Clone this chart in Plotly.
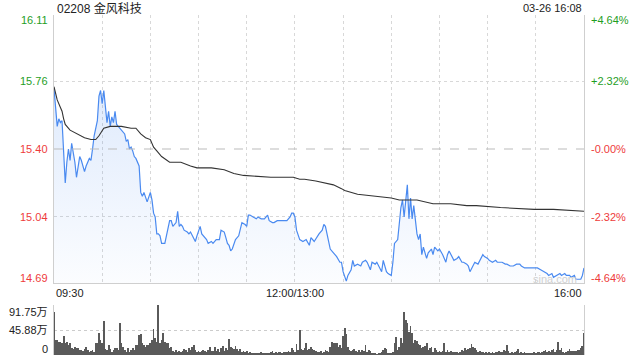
import plotly.graph_objects as go

# ---------------- data ----------------
title_text = "02208 金风科技"
stamp_text = "03-26 16:08"
prev_close = 15.40
price_levels = [16.11, 15.76, 15.40, 15.04, 14.69]
pct_labels = ["+4.64%", "+2.32%", "-0.00%", "-2.32%", "-4.64%"]
price_min, price_max = 14.69, 16.11
vol_max = 91.75
vol_labels = ["91.75万", "45.88万", "0"]
x_labels = ["09:30", "12:00/13:00", "16:00"]

price_times = [
    "09:30","09:31","09:32","09:33","09:34","09:35","09:36","09:37","09:38","09:39",
    "09:40","09:41","09:43","09:44","09:46","09:47","09:49","09:50","09:52","09:53",
    "09:54","09:55","09:57","09:58","09:59","10:00","10:01","10:02","10:03","10:04",
    "10:05","10:06","10:07","10:08","10:09","10:10","10:12","10:14","10:15","10:16",
    "10:17","10:18","10:19","10:20","10:21","10:23","10:24","10:25","10:26","10:27",
    "10:28","10:30","10:31","10:32","10:33","10:34","10:35","10:36","10:37","10:39",
    "10:41","10:42","10:43","10:44","10:46","10:47","10:48","10:49","10:50","10:51",
    "10:53","10:54","10:55","10:56","10:57","10:58","10:59","11:01","11:02","11:03",
    "11:05","11:06","11:08","11:09","11:11","11:12","11:13","11:14","11:16","11:17",
    "11:18","11:19","11:20","11:21","11:22","11:23","11:25","11:26","11:27","11:29",
    "11:30","11:31","11:32","11:34","11:36","11:37","11:39","11:41","11:43","11:44",
    "11:46","11:47","11:49","11:51","11:53","11:55","11:57","11:58","11:59","12:00",
    "13:01","13:03","13:05","13:07","13:09","13:10","13:12","13:14","13:15","13:17",
    "13:18","13:19","13:21","13:22","13:24","13:26","13:28","13:29","13:30","13:32",
    "13:33","13:35","13:36","13:37","13:39","13:41","13:42","13:44","13:45","13:47",
    "13:48","13:50","13:51","13:53","13:54","13:55","13:57","13:58","14:00","14:01",
    "14:02","14:04","14:05","14:06","14:07","14:08","14:10","14:11","14:12","14:13",
    "14:14","14:15","14:16","14:17","14:18","14:19","14:20","14:22","14:23","14:25",
    "14:26","14:27","14:29","14:30","14:32","14:34","14:35","14:36","14:38","14:39",
    "14:41","14:42","14:44","14:45","14:47","14:48","14:49","14:51","14:52","14:54",
    "14:55","14:57","14:58","15:00","15:01","15:03","15:05","15:06","15:08","15:09",
    "15:11","15:12","15:14","15:16","15:18","15:20","15:21","15:23","15:25","15:27",
    "15:29","15:31","15:33","15:35","15:37","15:38","15:40","15:41","15:43","15:45",
    "15:46","15:48","15:49","15:51","15:52","15:54","15:55","15:58","15:59","16:00",
]
price_values = [
    15.72,15.59,15.52,15.56,15.54,15.55,15.41,15.22,15.33,15.40,
    15.34,15.43,15.33,15.25,15.36,15.34,15.28,15.31,15.35,15.34,
    15.40,15.47,15.55,15.68,15.71,15.64,15.71,15.61,15.54,15.60,
    15.52,15.57,15.54,15.60,15.53,15.52,15.50,15.48,15.44,15.45,
    15.40,15.41,15.39,15.36,15.35,15.31,15.17,15.15,15.17,15.14,
    15.12,15.17,15.13,15.06,15.04,14.95,14.95,14.94,14.90,14.90,
    14.97,15.02,15.02,14.99,15.01,15.07,14.99,15.00,14.99,14.97,
    14.96,14.95,14.96,14.94,14.92,14.91,14.94,14.99,14.95,14.94,
    14.92,14.90,14.91,14.90,14.92,14.92,14.92,14.97,14.96,14.93,
    14.90,14.89,14.86,14.87,14.90,14.92,14.94,14.97,15.01,15.00,
    14.99,15.05,15.05,15.04,15.03,15.04,15.03,15.03,15.05,15.02,
    15.01,15.01,15.02,15.02,15.02,15.02,15.04,15.06,15.06,15.04,
    14.97,14.92,14.91,14.92,14.89,14.93,14.91,14.94,14.95,14.97,
    15.00,14.99,14.91,14.87,14.85,14.83,14.80,14.80,14.75,14.70,
    14.73,14.76,14.81,14.78,14.79,14.78,14.80,14.81,14.80,14.76,
    14.80,14.79,14.80,14.77,14.75,14.81,14.75,14.74,14.73,14.80,
    14.90,14.92,15.00,15.09,15.13,15.04,15.21,15.03,15.14,15.03,
    15.10,15.03,14.95,14.92,14.95,14.84,14.88,14.82,14.85,14.87,
    14.84,14.88,14.86,14.87,14.84,14.80,14.84,14.86,14.83,14.81,
    14.82,14.83,14.80,14.80,14.79,14.78,14.75,14.78,14.80,14.79,
    14.81,14.84,14.83,14.82,14.81,14.80,14.81,14.80,14.80,14.80,
    14.79,14.79,14.78,14.78,14.79,14.79,14.78,14.77,14.77,14.77,
    14.77,14.77,14.76,14.75,14.74,14.73,14.74,14.72,14.73,14.74,
    14.73,14.74,14.73,14.73,14.72,14.73,14.71,14.71,14.73,14.77,
]

avg_times = [
    "09:30","09:32","09:34","09:35","09:36","09:37","09:40","09:45","09:49","09:53",
    "09:56","09:58","10:01","10:05","10:12","10:18","10:21","10:24","10:27","10:30",
    "10:32","10:34","10:37","10:42","10:49","10:55","10:59","11:08","11:16","11:22",
    "11:28","11:45","11:59","13:03","13:06","13:13","13:24","13:29","13:31","13:39",
    "13:49","14:00","14:05","14:16","14:26","14:37","14:47","14:53","15:08","15:29",
    "15:41","16:00",
]
avg_values = [
    15.73,15.66,15.62,15.60,15.56,15.53,15.50,15.48,15.46,15.45,
    15.45,15.47,15.51,15.52,15.52,15.51,15.51,15.48,15.46,15.45,
    15.41,15.39,15.36,15.33,15.33,15.31,15.30,15.30,15.29,15.27,
    15.26,15.25,15.25,15.24,15.24,15.23,15.21,15.19,15.18,15.16,
    15.15,15.14,15.13,15.13,15.11,15.11,15.10,15.10,15.09,15.08,
    15.08,15.07,
]

# volume per minute (万), one value per minute slot from 09:30 to 16:00
volume_values = [
    79.5,27.5,27.5,24.5,24.5,21.4,34.9,21.4,24.5,18.4,
    21.4,12.2,10.4,14.1,13.5,12.2,9.2,9.2,8.0,10.4,
    15.3,9.2,6.1,7.3,9.2,6.1,21.4,21.4,41.0,27.5,
    21.4,63.0,10.4,9.2,18.4,10.4,6.1,9.2,12.2,12.2,
    9.2,58.1,21.4,15.3,9.2,6.1,12.2,6.1,9.2,12.2,
    9.2,18.4,18.4,36.7,38.5,21.4,18.4,15.3,18.4,18.4,
    21.4,27.5,47.1,30.6,24.5,91.75,21.4,27.5,39.8,24.5,
    21.4,22.6,12.2,15.3,7.3,6.1,9.2,6.1,7.3,6.1,
    8.0,10.4,9.2,6.1,12.2,9.2,15.3,18.4,9.2,6.1,
    7.3,6.1,8.0,9.2,7.3,6.1,9.2,15.3,7.3,8.0,
    15.3,7.3,10.4,6.1,12.2,16.5,7.3,12.2,9.2,28.7,
    15.3,12.2,10.4,16.5,10.4,7.3,10.4,6.1,7.3,6.1,
    7.3,4.3,5.5,4.3,3.1,4.3,4.3,3.1,4.3,4.9,
    3.1,4.3,3.7,3.1,4.3,6.1,7.3,4.3,5.5,4.3,
    6.1,5.5,4.3,6.1,4.9,6.1,7.3,4.9,12.2,9.2,
    6.1,20.2,9.2,45.9,10.4,9.2,12.2,21.4,9.2,10.4,
    14.1,11.6,9.2,7.3,6.1,
    6.1,7.3,4.3,6.1,9.2,7.3,6.1,15.3,24.5,22.6,
    22.6,22.6,14.1,18.4,12.2,34.9,48.9,37.9,15.3,9.2,
    7.3,9.2,10.4,7.3,6.1,9.2,6.1,9.2,7.3,18.4,
    6.1,9.2,8.0,4.3,3.1,4.3,1.8,3.1,4.3,6.1,
    9.2,12.2,10.4,4.3,3.1,4.3,6.1,21.4,33.6,9.2,
    14.1,30.6,21.4,78.9,64.2,58.1,42.8,53.2,39.8,21.4,
    27.5,26.3,20.2,18.4,12.2,15.3,16.5,21.4,9.2,12.2,
    14.1,6.1,12.2,9.2,6.1,8.0,6.1,7.3,22.6,6.1,
    9.2,6.1,7.3,6.1,5.5,6.1,6.1,4.3,6.1,9.2,
    7.3,12.2,9.2,10.4,12.2,20.2,14.1,12.2,9.2,6.1,
    7.3,6.1,5.5,4.3,5.5,4.3,4.9,4.3,5.5,4.3,
    5.5,6.1,7.3,5.5,6.1,9.2,7.3,18.4,7.3,4.3,
    5.5,4.3,6.1,7.3,10.4,4.3,5.5,4.3,4.9,4.3,
    3.7,4.3,3.7,4.3,4.9,3.7,5.5,4.9,4.3,6.1,
    7.3,9.2,5.5,7.3,6.1,9.2,10.4,6.1,9.2,24.5,
    9.2,12.2,6.1,4.3,6.1,7.3,10.4,7.3,8.0,7.3,
    8.0,9.2,9.2,12.2,16.5,41.0,
]

# ---------------- helpers ----------------
def slot(t):
    h, m = map(int, t.split(":"))
    mins = h * 60 + m
    if mins <= 12 * 60:
        return mins - (9 * 60 + 30)
    return mins - 13 * 60 + 150

px = [slot(t) for t in price_times]
ax = [slot(t) for t in avg_times]
vx = list(range(len(volume_values)))
n_slots = 330

GREEN = "#1f9e1f"
RED = "#ee3b3b"
FONT = "Liberation Sans, Arial, Noto Sans CJK SC, sans-serif"
W, H = 640, 360
L, R = 54, 584
x_dom = [L / W, R / W]
y_dom = [(H - 283) / H, (H - 15) / H]
v_dom = [(H - 355) / H, (H - 305) / H]

fig = go.Figure()

fig.add_trace(go.Scatter(
    x=px, y=price_values, mode="lines",
    line=dict(color="#4a8af0", width=1.2),
    fill="tozeroy",
    fillgradient=dict(type="vertical", start=price_min, stop=15.75,
                      colorscale=[[0, "rgba(74,138,240,0.02)"], [1, "rgba(74,138,240,0.18)"]]),
    hoverinfo="skip", showlegend=False, xaxis="x", yaxis="y",
))
fig.add_trace(go.Scatter(
    x=ax, y=avg_values, mode="lines",
    line=dict(color="#333333", width=1.1),
    hoverinfo="skip", showlegend=False, xaxis="x", yaxis="y",
))
fig.add_trace(go.Bar(
    x=vx, y=volume_values, width=0.5,
    marker=dict(color="#5a5a5a", line=dict(width=0)),
    hoverinfo="skip", showlegend=False, xaxis="x2", yaxis="y2",
))

fig.update_layout(
    width=W, height=H,
    margin=dict(l=0, r=0, t=0, b=0),
    paper_bgcolor="white", plot_bgcolor="white",
    font=dict(family=FONT, size=11, color="#333"),
    bargap=0,
    xaxis=dict(domain=x_dom, range=[0, n_slots], tickvals=list(range(30, 330, 30)),
               showticklabels=False, ticks="", showgrid=True, gridcolor="#d8d8d8",
               griddash="dot", gridwidth=1, zeroline=False,
               showline=True, linecolor="#cfcfcf", linewidth=1, anchor="y"),
    yaxis=dict(domain=y_dom, range=[price_min, price_max],
               tickvals=[price_levels[1], price_levels[3]],
               showticklabels=False, ticks="", showgrid=True, gridcolor="#d8d8d8",
               griddash="dot", zeroline=False, showline=True, mirror=True,
               linecolor="#cfcfcf", linewidth=1, anchor="x"),
    xaxis2=dict(domain=x_dom, range=[0, n_slots], showticklabels=False, ticks="",
                showgrid=False, zeroline=False, anchor="y2"),
    yaxis2=dict(domain=v_dom, range=[0, vol_max], tickvals=[vol_max / 2, vol_max],
                showticklabels=False, ticks="", showgrid=True, gridcolor="#cccccc",
                griddash="dot", zeroline=False, showline=True, mirror=True,
                linecolor="#cfcfcf", linewidth=1, anchor="x2"),
    shapes=[dict(type="line", xref="paper", x0=x_dom[0], x1=x_dom[1], yref="y",
                 y0=prev_close, y1=prev_close,
                 line=dict(color="#bbbbbb", width=1, dash="dash"))],
)

ann = []
# title / timestamp
ann.append(dict(text=title_text, x=55 / W, y=(H - 8) / H, xref="paper", yref="paper",
                xanchor="left", yanchor="middle", showarrow=False,
                font=dict(size=12, color="#222")))
ann.append(dict(text=stamp_text, x=R / W, y=(H - 8) / H, xref="paper", yref="paper",
                xanchor="right", yanchor="middle", showarrow=False,
                font=dict(size=11, color="#222")))

# price / percent labels
shifts = [-5, 0, 0, 0, 5]
for v, ptxt, s in zip(price_levels, pct_labels, shifts):
    col = GREEN if v > prev_close + 1e-9 else RED
    ann.append(dict(text="%.2f" % v, x=50 / W, y=v, xref="paper", yref="y",
                    xanchor="right", yanchor="middle", yshift=s, showarrow=False,
                    font=dict(size=11, color=col)))
    ann.append(dict(text=ptxt, x=589 / W, y=v, xref="paper", yref="y",
                    xanchor="left", yanchor="middle", yshift=s, showarrow=False,
                    font=dict(size=11, color=col)))

# time labels
ann.append(dict(text=x_labels[0], x=0, y=(H - 293) / H, xref="x", yref="paper",
                xanchor="left", yanchor="middle", showarrow=False, font=dict(size=11, color="#222")))
ann.append(dict(text=x_labels[1], x=150, y=(H - 293) / H, xref="x", yref="paper",
                xanchor="center", yanchor="middle", showarrow=False, font=dict(size=11, color="#222")))
ann.append(dict(text=x_labels[2], x=n_slots, y=(H - 293) / H, xref="x", yref="paper",
                xanchor="right", yanchor="middle", showarrow=False, font=dict(size=11, color="#222")))

# volume labels
for v, t, s in zip([vol_max, vol_max / 2, 0], vol_labels, [-7, 0, 6]):
    ann.append(dict(text=t, x=50 / W, y=v, xref="paper", yref="y2",
                    xanchor="right", yanchor="middle", yshift=s, showarrow=False,
                    font=dict(size=11, color="#222")))

# watermark
ann.append(dict(text="sina.com", x=579 / W, y=(H - 279) / H, xref="paper", yref="paper",
                xanchor="right", yanchor="middle", showarrow=False,
                font=dict(size=11, color="#d0d0d0")))

fig.update_layout(annotations=ann)
fig.write_html("out.html")
